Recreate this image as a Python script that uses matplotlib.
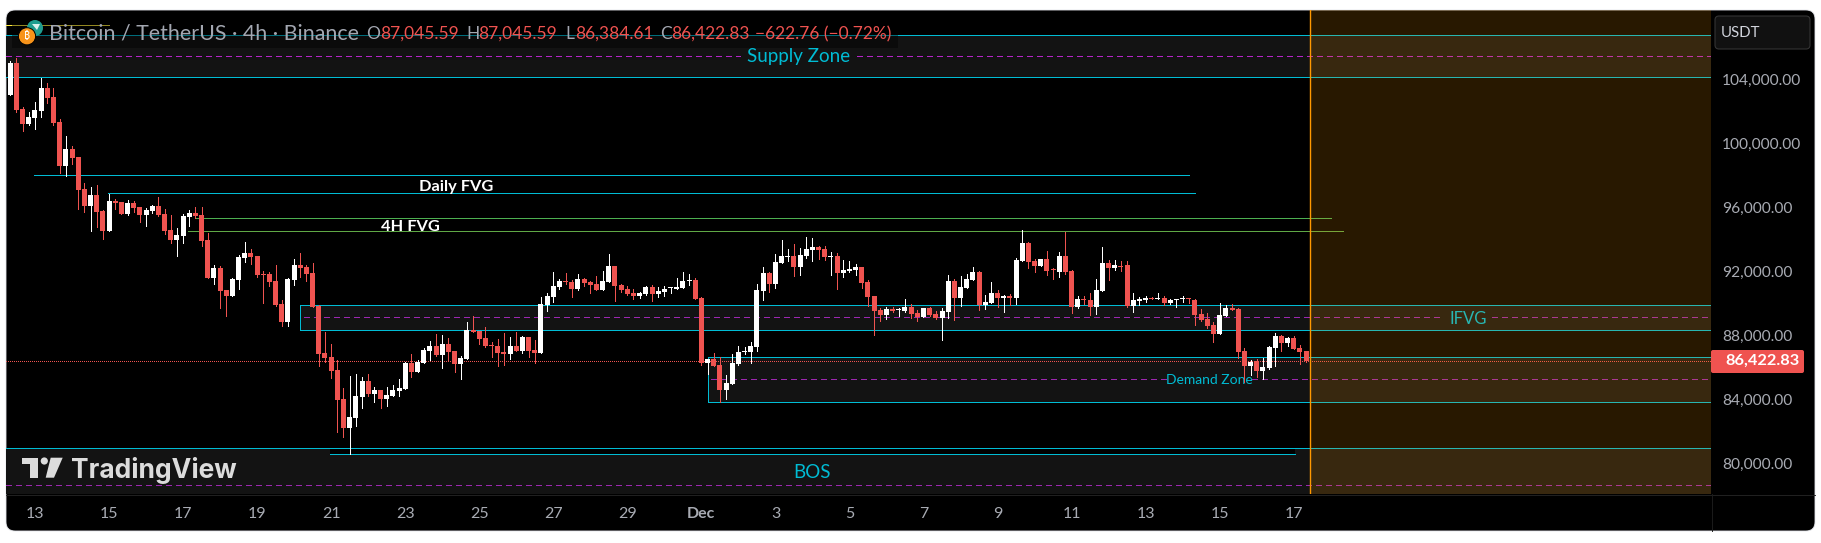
import numpy as np
import matplotlib
matplotlib.use("Agg")
import matplotlib.pyplot as plt
from matplotlib.patches import Circle, FancyBboxPatch, Polygon, Rectangle

plt.rcParams["font.family"] = ["Lato", "DejaVu Sans"]

# 4h candles, BTC/USDT
opens = [
    103047, 105047, 102172, 101234, 101609, 102047, 103484, 102922, 101359, 98609,
    99672, 99172, 97172, 96109, 96797, 95797, 94547, 96422, 96359, 95609,
    96297, 96047, 95547, 95797, 96109, 95609, 94609, 93984, 94234, 95422,
    95672, 95547, 93984, 91609, 92234, 90859, 90484, 91484, 92859, 93172,
    92984, 91859, 91859, 91422, 89984, 88859, 91484, 92422, 92297, 91922,
    89859, 86922, 86672, 85859, 84047, 82234, 82859, 84172, 85172, 84359,
    84609, 84047, 84234, 84547, 84672, 86297, 85734, 86297, 87047, 87359,
    86797, 87484, 87047, 86234, 86547, 88340, 88297, 87859, 87422, 87359,
    86984, 86859, 87359, 87047, 87922, 87109, 86922, 89922, 90422, 91047,
    91422, 91359, 90922, 91547, 91359, 91234, 90859, 91359, 92359, 91172,
    90922, 90672, 90484, 90609, 91047, 90609, 90734, 90965, 90922, 90984,
    91422, 91484, 90359, 86297, 86547, 86172, 84609, 84984, 86234, 86965,
    86984, 87297, 90797, 91922, 91234, 92547, 92941, 92984, 92297, 92984,
    93359, 93547, 93422, 92941, 92984, 91922, 92047, 92109, 92297, 91359,
    90484, 89609, 89297, 89672, 89609, 89547, 89797, 89422, 89172, 89734,
    89359, 89109, 89484, 91422, 90359, 90984, 91484, 91984, 89922, 90047,
    90672, 90359, 90484, 90359, 92672, 93797, 92672, 92359, 92797, 92172,
    91984, 92984, 92047, 89797, 90297, 90234, 89797, 90797, 92547, 92234,
    92378, 92422, 89859, 90172, 90234, 90359, 90315, 90359, 90047, 90234,
    90278, 90340, 90234, 89359, 89047, 88672, 88109, 89234, 89734, 89672,
    87047, 86109, 86422, 85797, 85984, 87234, 87984, 87547, 87859, 87234,
    87045.59,
]
highs = [
    105171, 105340, 102278, 101984, 102609, 104109, 103797, 103484, 101528, 100484,
    99859, 99172, 97547, 97297, 97422, 95859, 96859, 96547, 96359, 96484,
    96422, 96047, 95984, 96172, 96672, 95922, 95547, 94734, 95609, 95859,
    96047, 96047, 94422, 92422, 92359, 90859, 91609, 93047, 93859, 93422,
    92984, 92047, 91984, 92422, 90234, 91609, 92797, 93172, 92422, 92547,
    89922, 88234, 87484, 86484, 84734, 85484, 85609, 85422, 85609, 84797,
    84609, 84797, 84922, 85297, 86359, 86859, 86484, 87234, 87672, 88109,
    88047, 87859, 87047, 86734, 88859, 89234, 88297, 88547, 87609, 87797,
    88172, 87922, 88234, 87984, 87922, 87734, 90422, 90672, 91984, 91547,
    91922, 91484, 91859, 91609, 91422, 91734, 92047, 93109, 92359, 91234,
    91109, 90922, 90734, 91109, 91172, 91047, 91109, 91047, 91609, 91984,
    91859, 91609, 90422, 86547, 86922, 86672, 85547, 86859, 87359, 87297,
    87609, 91234, 92297, 91984, 93109, 93984, 93422, 93734, 93484, 94172,
    94109, 93609, 93609, 93234, 93172, 92734, 92672, 92484, 92297, 91484,
    90484, 89734, 89797, 89797, 89753, 90297, 89984, 89609, 89734, 89797,
    89547, 89734, 91797, 91547, 91734, 91859, 92297, 92047, 90547, 91359,
    90859, 90547, 90609, 92859, 94609, 93859, 92797, 92797, 93297, 92234,
    93234, 94484, 92109, 90484, 90484, 90672, 91547, 93547, 92734, 92734,
    92672, 92672, 90672, 90422, 90484, 90422, 90672, 90484, 90297, 90297,
    90484, 90359, 90297, 89672, 89422, 88859, 90047, 89922, 89984, 89734,
    87234, 86484, 86547, 86609, 87359, 88172, 88047, 87922, 87984, 87422,
    87045.59,
]
lows = [
    103047, 102003, 100816, 101172, 100922, 101672, 102547, 101172, 98172, 97984,
    98734, 95922, 95734, 94547, 94797, 94047, 94547, 95922, 95609, 95547,
    95734, 95109, 94859, 95672, 95484, 94359, 93797, 92984, 93797, 94859,
    95359, 93609, 91609, 91234, 89734, 89234, 90484, 90922, 92609, 92484,
    91672, 90047, 91109, 89859, 88609, 88609, 91172, 91672, 91422, 89797,
    86109, 86359, 85359, 81984, 81672, 80609, 82359, 83484, 84234, 83859,
    83484, 83609, 84234, 84234, 84672, 85422, 85734, 86297, 86484, 86734,
    85984, 86484, 85734, 85297, 86547, 88234, 87484, 87297, 86672, 86109,
    86172, 86547, 87047, 86922, 86672, 86297, 86922, 89547, 90109, 90922,
    91234, 90422, 90859, 91109, 90672, 90859, 90859, 91359, 90172, 90734,
    90547, 90297, 90359, 90547, 90172, 90422, 90484, 90672, 90922, 90984,
    91172, 90297, 86172, 85609, 86109, 83859, 84047, 84984, 86172, 86859,
    86297, 87047, 90234, 90734, 90984, 92547, 92672, 91734, 91797, 92859,
    92672, 92797, 92734, 91797, 90922, 91672, 91984, 91797, 90984, 89859,
    88047, 88922, 89047, 89484, 89234, 89484, 89109, 88922, 89172, 89234,
    89047, 87734, 89109, 88984, 89859, 90984, 91484, 89609, 89672, 90047,
    89797, 89484, 89922, 89984, 92672, 92234, 91984, 92359, 91797, 91547,
    91672, 91859, 89422, 89734, 89984, 89297, 89359, 90797, 91484, 92109,
    92047, 89797, 89484, 89922, 90109, 90297, 90297, 89922, 89984, 89797,
    90109, 90047, 88672, 88922, 88484, 87609, 88109, 89234, 89609, 86609,
    85109, 85547, 85422, 85297, 85922, 86109, 87047, 87359, 87172, 86234,
    86384.61,
]
closes = [
    105047, 102109, 101234, 101672, 102109, 103484, 102859, 101297, 98609, 99672,
    99109, 97109, 96109, 96797, 95734, 94547, 96422, 96297, 95609, 96297,
    95984, 95547, 95859, 96109, 95547, 94547, 93984, 94297, 95484, 95672,
    95484, 93922, 91609, 92234, 90797, 90484, 91547, 92922, 93172, 92922,
    91797, 91797, 91359, 89922, 88859, 91547, 92422, 92234, 91859, 89797,
    86859, 86609, 85797, 83984, 82234, 82922, 84234, 85172, 84359, 84609,
    84047, 84297, 84609, 84734, 86297, 85734, 86359, 87109, 87359, 86797,
    87484, 86984, 86234, 86609, 88359, 88253, 87797, 87359, 87359, 86922,
    86859, 87359, 87047, 87922, 87047, 86922, 89984, 90484, 91109, 91422,
    91359, 90922, 91547, 91297, 91172, 90859, 91422, 92359, 91109, 90859,
    90609, 90484, 90672, 91047, 90609, 90797, 90922, 91028, 91047, 91422,
    91484, 90297, 86297, 86547, 86109, 84609, 85047, 86297, 86984, 87028,
    87359, 90859, 91922, 91234, 92609, 92984, 92984, 92297, 93047, 93422,
    93547, 93359, 92922, 92984, 91922, 92109, 92172, 92297, 91297, 90422,
    89547, 89297, 89672, 89547, 89672, 89797, 89359, 89172, 89734, 89297,
    89109, 89547, 91422, 90359, 91047, 91547, 91984, 89922, 90109, 90672,
    90359, 90484, 90359, 92734, 93797, 92609, 92359, 92797, 92047, 92109,
    92984, 91984, 89797, 90297, 90234, 89797, 90859, 92547, 92234, 92422,
    92315, 89859, 90234, 90297, 90359, 90297, 90359, 90047, 90234, 90278,
    90340, 90278, 89297, 88984, 88609, 88109, 89297, 89734, 89609, 86984,
    86109, 86359, 85797, 86047, 87297, 87984, 87547, 87859, 87172, 86984,
    86422.83,
]

# axis labels
date_labels = ["13", "15", "17", "19", "21", "23", "25", "27", "29", "Dec",
               "3", "5", "7", "9", "11", "13", "15", "17"]
date_candles = [4, 16, 28, 40, 52, 64, 76, 88, 100, 112,
                124, 136, 148, 160, 172, 184, 196, 208]
price_ticks = [80000, 84000, 88000, 92000, 96000, 100000, 104000]

# price levels drawn on the chart
supply_zone = [104153, 105473, 106797]
ifvg_zone = [88340, 89153, 89903]
demand_zone = [83840, 85278, 86653]
bos_zone = [78653, 80590, 80965]
daily_fvg = [96903, 98028]
h4_fvg = [94528, 95340]
old_level = 107422

RED = "#ef5350"
CYAN = "#00bcd4"
GREEN = "#4caf50"
PURPLE = "#9c27b0"
ZONE = "#131313"
GREY = "#a8abb3"
LW = 0.68

fig = plt.figure(figsize=(18.21, 5.43), dpi=100, facecolor="white")


def px_axes(zorder):
    a = fig.add_axes([0, 0, 1, 1], zorder=zorder)
    a.set_xlim(0, 1821)
    a.set_ylim(543, 0)
    a.axis("off")
    return a


back = px_axes(0)
back.add_patch(FancyBboxPatch((6, 10), 1809, 521, boxstyle="round,pad=0,rounding_size=9",
                              fc="black", ec="#e3e5ea", lw=0.6))
back.plot([6, 1815], [494.5, 494.5], color="#222222", lw=LW)
back.plot([1711.5, 1711.5], [494, 531], color="#1c1c1c", lw=LW)

ax = fig.add_axes([6 / 1821, 49 / 543, 1705 / 1821, 484 / 543], zorder=1)
ax.patch.set_visible(False)
for s in ax.spines.values():
    s.set_visible(False)
x_left, x_right = -0.697, 275.63
ax.set_xlim(x_left, x_right)
ax.set_ylim(78109, 108359)


def level(price, start=x_left, end=x_right, color=CYAN, style="solid", z=2.0):
    lines = ax.hlines(price, start, end, colors=color, linewidth=LW, linestyles=style, zorder=z,
                      antialiased=False)
    lines.set_snap(True)


def zone_box(start, low, high):
    ax.add_patch(Rectangle((start, low), 400, high - low, fc=ZONE, ec=CYAN, lw=LW, zorder=1,
                           antialiased=False))


dash = (0, (6, 5))

# zones
zone_box(-5, supply_zone[0], supply_zone[2])
zone_box(46.95, ifvg_zone[0], ifvg_zone[2])
zone_box(113, demand_zone[0], demand_zone[2])
zone_box(-5, 70000, bos_zone[2])
ax.add_patch(Rectangle((51.8, bos_zone[1]), 156.4, bos_zone[2] - bos_zone[1], fc="black", ec="none", zorder=1.2))
level(bos_zone[2])
level(bos_zone[1], 51.8, 208.2)

# mid lines, broken where the text sits
level(supply_zone[1], x_left, 118.3, "#b524c8", dash, 1.5)
level(supply_zone[1], 137.2, x_right, "#b524c8", dash, 1.5)
level(ifvg_zone[1], 47.6, 232, PURPLE, dash, 1.5)
level(ifvg_zone[1], 240.1, x_right, PURPLE, dash, 1.5)
level(demand_zone[1], 113.5, 187.5, PURPLE, dash, 1.5)
level(demand_zone[1], 201.2, x_right, PURPLE, dash, 1.5)
level(bos_zone[0], x_left, x_right, PURPLE, dash, 1.5)

level(daily_fvg[1], 3.8, 191)
level(daily_fvg[0], 15.8, 192)
level(h4_fvg[1], 29.9, 214, GREEN)
level(h4_fvg[0], 28.8, 216, "#5fa845")
level(old_level, x_left, 16, "#ffeb3b")

# last price line
level(closes[-1], x_left, x_right, RED, (0, (1, 2)), 2.2)

# candles
o = np.array(opens)
h = np.array(highs)
l = np.array(lows)
c = np.array(closes)
idx = np.arange(len(o))
colors = np.where(c >= o, "#ffffff", RED)
wicks = ax.vlines(idx, l, h, colors=colors, linewidth=LW, zorder=4, antialiased=False)
wicks.set_snap(True)
ax.bar(idx, np.abs(c - o), bottom=np.minimum(o, c), width=0.81, color=colors, linewidth=0, zorder=5)

# zone labels
ax.text(127.7, supply_zone[1], "Supply Zone", color=CYAN, fontsize=13.5, ha="center", va="center", zorder=2.5)
ax.text(236.3, ifvg_zone[1] - 100, "IFVG", color=CYAN, fontsize=12, ha="center", va="center", zorder=2.5)
ax.text(194.3, demand_zone[1] - 60, "Demand Zone", color=CYAN, fontsize=10, ha="center", va="center", zorder=3)
ax.text(130, 79460, "BOS", color=CYAN, fontsize=13.5, ha="center", va="center", zorder=2.5)
ax.text(72.3, 97280, "Daily FVG", color="white", fontsize=11.8, fontweight="bold", ha="center", va="center", zorder=3)
ax.text(64.9, 94780, "4H FVG", color="white", fontsize=11.8, fontweight="bold", ha="center", va="center", zorder=3)

# future area and the vertical marker
ax.axvspan(210.65, x_right, color="#ff9800", alpha=0.16, lw=0, zorder=3.5)
ax.axvline(210.65, color="#ff9800", lw=1.0, zorder=3.6)

# axes
ax.yaxis.tick_right()
ax.set_yticks(price_ticks, [f"{p:,.2f}" for p in price_ticks])
ax.set_xticks(date_candles, date_labels)
ax.tick_params(axis="y", length=0, pad=8, labelsize=11.2, labelcolor=GREY)
ax.tick_params(axis="x", length=0, pad=9.5, labelsize=11.5, labelcolor=GREY)
for t in ax.get_xticklabels():
    if t.get_text() == "Dec":
        t.set_fontweight("bold")

# things that sit on top of the chart
top = px_axes(2)
top.add_patch(Rectangle((12, 18), 886, 30, fc="black", alpha=0.42, ec="none"))

# symbol icons
top.add_patch(Circle((35, 28), 8, fc="#1f9d8f", ec="none"))
top.add_patch(Polygon([(32, 24), (40, 24), (37, 30)], fc="white", alpha=0.85, ec="none"))
top.add_patch(Circle((27, 36.3), 8.6, fc="#f7931a", ec="black", lw=0.7))
top.text(27, 36.6, "₿", color="white", fontsize=7.5, fontweight="bold", ha="center", va="center",
         family=["Noto Sans", "Roboto", "Open Sans", "Inter", "Noto Sans CJK SC", "DejaVu Sans"])

# header
change = closes[-1] - opens[-1]
pct = change / opens[-1] * 100
top.text(48.7, 39.6, "Bitcoin / TetherUS · 4h · Binance", color="#a3a7b1", fontsize=15.4, va="baseline")
header_label_x = [366, 466, 565, 660]
header_value_x = [380, 478, 575, 671]
header_values = [opens[-1], highs[-1], lows[-1], closes[-1]]
for lab, lx, vx, val in zip("OHLC", header_label_x, header_value_x, header_values):
    top.text(lx, 39, lab, color="#a3a7b1", fontsize=12.5, va="baseline")
    top.text(vx, 39, f"{val:,.2f}", color=RED, fontsize=12.5, va="baseline")
top.text(755, 39, f"−{abs(change):.2f} (−{abs(pct):.2f}%)", color=RED, fontsize=12.5, va="baseline")

# currency box
top.add_patch(FancyBboxPatch((1715, 16), 95, 33, boxstyle="round,pad=0,rounding_size=4",
                             fc="#111111", ec="#343434", lw=0.8))
top.text(1720.7, 33, "USDT", color="#d1d4dc", fontsize=10.8, va="center")

# last price tag
top.add_patch(FancyBboxPatch((1711, 350), 93, 23, boxstyle="round,pad=0,rounding_size=2",
                             fc=RED, ec="none"))
top.text(1763, 361, f"{closes[-1]:,.2f}", color="white", fontsize=11.8, fontweight="bold", ha="center", va="center")

# TradingView mark
mark = "#dcdcdc"
top.add_patch(Polygon([(22.3, 457.7), (38, 457.7), (38, 477.7), (30, 477.7), (30, 464.3), (22.3, 464.3)],
                      fc=mark, ec="none"))
top.add_patch(Circle((44.3, 461), 3.6, fc=mark, ec="none"))
top.add_patch(Polygon([(50.7, 457.7), (62.7, 457.7), (54, 477.7), (45.7, 477.7)], fc=mark, ec="none"))
top.text(71, 477.7, "TradingView", color=mark, fontsize=19, fontweight="bold", va="baseline", family=["Inter", "DejaVu Sans"])

fig.savefig("out.png", dpi=100, facecolor="white")
